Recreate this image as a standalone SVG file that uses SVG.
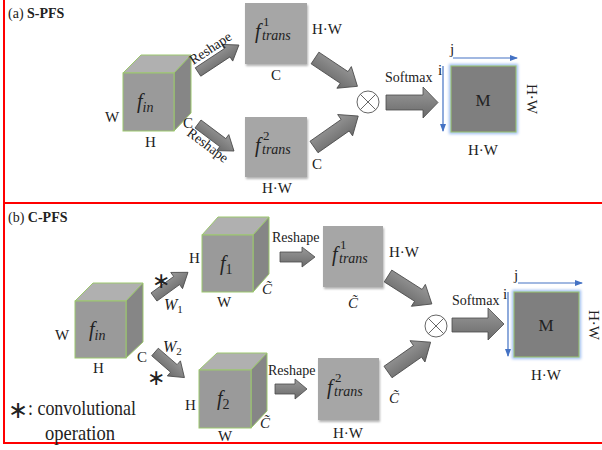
<svg xmlns="http://www.w3.org/2000/svg" width="602" height="450" viewBox="0 0 602 450" font-family="'Liberation Serif', 'Times New Roman', serif">
<style>
text{font-family:'Liberation Serif','Times New Roman',serif;fill:#222}
.lb{font-size:15px}
.sm{font-size:14px}
.it{font-style:italic}
.front{fill:#9a9a9a;stroke:#9cc76e;stroke-width:1}
.top{fill:#b0b0b0;stroke:#9cc76e;stroke-width:1}
.side{fill:#868686;stroke:#9cc76e;stroke-width:1}
.box{fill:#a6a6a6;filter:url(#sh)}
.arr{fill:url(#ag);stroke:#4a4a4a;stroke-width:0.8}
.ax{stroke:#4472c4;stroke-width:1.2;fill:none;marker-end:url(#bh)}
.red{stroke:#ff0000;stroke-width:2}
</style>
<defs>
<linearGradient id="ag" x1="0" y1="0" x2="0" y2="1">
<stop offset="0" stop-color="#9a9a9a"/><stop offset="1" stop-color="#6a6a6a"/>
</linearGradient>
<filter id="sh" x="-10%" y="-10%" width="125%" height="125%">
<feDropShadow dx="1" dy="2" stdDeviation="1" flood-color="#000" flood-opacity="0.3"/>
</filter>
<filter id="glow" x="-20%" y="-20%" width="140%" height="140%">
<feGaussianBlur stdDeviation="1.5"/>
</filter>
<marker id="bh" markerWidth="8" markerHeight="6" refX="7" refY="3" orient="auto" markerUnits="userSpaceOnUse">
<path d="M0,0 L8,3 L0,6 Z" fill="#4472c4"/>
</marker>
</defs>
<rect width="602" height="450" fill="#fff"/>
<g id="frame">
<line class="red" x1="4" y1="0" x2="4" y2="444"/>
<line class="red" x1="4" y1="203" x2="602" y2="203"/>
<line class="red" x1="4" y1="443" x2="602" y2="443"/>
</g>
<text x="8" y="18" class="sm">(a) <tspan font-weight="bold">S-PFS</tspan></text>
<text x="8" y="222" class="sm">(b) <tspan font-weight="bold">C-PFS</tspan></text>

<!-- Panel (a) -->
<g id="a_fin">
<polygon class="top" points="123,73 141,55 191,55 174,73"/>
<polygon class="side" points="174,73 191,55 191,113 174,131"/>
<rect class="front" x="123" y="73" width="51" height="58"/>
<text x="137" y="108" font-size="20" class="it">f<tspan font-size="14" dy="4">in</tspan></text>
<text x="105" y="122" class="lb">W</text>
<text x="145" y="147" class="lb">H</text>
<text x="183" y="128" class="lb">C</text>
</g>
<g id="a_ft1">
<rect class="box" x="245" y="3" width="62" height="61"/>
<text x="255" y="38" font-size="20" class="it">f</text>
<text x="263" y="26" font-size="13">1</text>
<text x="262" y="40" font-size="14" class="it">trans</text>
<text x="312" y="34" class="lb">H·W</text>
<text x="271" y="80" class="lb">C</text>
</g>
<g id="a_ft2">
<rect class="box" x="245" y="117" width="62" height="60"/>
<text x="255" y="152" font-size="20" class="it">f</text>
<text x="263" y="140" font-size="13">2</text>
<text x="262" y="154" font-size="14" class="it">trans</text>
<text x="312" y="169" class="lb">C</text>
<text x="262" y="193" class="lb">H·W</text>
</g>
<g id="a_otimes">
<circle cx="368" cy="102" r="11" fill="#fff" stroke="#666" stroke-width="1"/>
<line x1="360.2" y1="94.2" x2="375.8" y2="109.8" stroke="#666"/>
<line x1="375.8" y1="94.2" x2="360.2" y2="109.8" stroke="#666"/>
</g>
<g id="a_M">
<rect x="451" y="66" width="65" height="66" fill="none" stroke="#9dbdf0" stroke-width="4" filter="url(#glow)"/>
<rect x="451" y="66" width="65" height="66" fill="#7f7f7f" stroke="#9cc76e" stroke-width="1"/>
<text x="483" y="106" font-size="17" text-anchor="middle">M</text>
<text x="483" y="155" class="lb" text-anchor="middle">H·W</text>
<text transform="translate(527,99) rotate(90)" class="lb" text-anchor="middle">H·W</text>
<text x="450" y="54" class="lb">j</text>
<text x="438" y="75" class="lb">i</text>
</g>
<g id="connectors_a">
<path class="arr" transform="translate(198,72) rotate(-33.4)" d="M0,-5 H35 V-10 L49,0 L35,10 V5 H0 Z"/>
<text transform="translate(213,52) rotate(-33.4)" class="sm" text-anchor="middle">Reshape</text>
<path class="arr" transform="translate(198,124) rotate(36.9)" d="M0,-5 H31 V-10 L45,0 L31,10 V5 H0 Z"/>
<text transform="translate(205,149) rotate(37)" class="sm" text-anchor="middle">Reshape</text>
<path class="arr" transform="translate(315,58) rotate(33.7)" d="M0,-7 H35 V-13 L51,0 L35,13 V7 H0 Z"/>
<path class="arr" transform="translate(314,147) rotate(-35)" d="M0,-7 H38 V-13 L54,0 L38,13 V7 H0 Z"/>
<path class="arr" d="M386,95 H423 V87 L438,102.5 L423,118 V110 H386 Z"/>
<text x="385" y="82" class="sm">Softmax</text>
<path class="ax" d="M453,58 H517"/>
<path class="ax" d="M443,66 V131"/>
</g>

<!-- Panel (b) -->
<g id="b_fin">
<polygon class="top" points="75,301 93,283 143,283 126,301"/>
<polygon class="side" points="126,301 143,283 143,342 126,358"/>
<rect class="front" x="75" y="301" width="51" height="57"/>
<text x="89" y="336" font-size="20" class="it">f<tspan font-size="14" dy="4">in</tspan></text>
<text x="55" y="340" class="lb">W</text>
<text x="93" y="373" class="lb">H</text>
<text x="137" y="362" class="lb">C</text>
</g>
<g id="b_f1">
<polygon class="top" points="202,235 218,217 269,217 253,235"/>
<polygon class="side" points="253,235 269,217 269,274 253,292"/>
<rect class="front" x="202" y="235" width="51" height="57"/>
<text x="220" y="270" font-size="20" class="it">f<tspan font-size="14" dy="4" font-style="normal">1</tspan></text>
<text x="189" y="263" class="lb">H</text>
<text x="217" y="307" class="lb">W</text>
<text x="262" y="294" font-size="15" class="it">C&#x303;</text>
</g>
<g id="b_f2">
<polygon class="top" points="199,370 217,353 267,353 251,370"/>
<polygon class="side" points="251,370 267,353 267,411 251,428"/>
<rect class="front" x="199" y="370" width="52" height="58"/>
<text x="217" y="405" font-size="20" class="it">f<tspan font-size="14" dy="4" font-style="normal">2</tspan></text>
<text x="185" y="410" class="lb">H</text>
<text x="218" y="441" class="lb">W</text>
<text x="260" y="428" font-size="15" class="it">C&#x303;</text>
</g>
<g id="b_ft1">
<rect class="box" x="323" y="226" width="60" height="61"/>
<text x="332" y="261" font-size="20" class="it">f</text>
<text x="340" y="249" font-size="13">1</text>
<text x="339" y="263" font-size="14" class="it">trans</text>
<text x="389" y="257" class="lb">H·W</text>
<text x="348" y="308" font-size="15" class="it">C&#x303;</text>
</g>
<g id="b_ft2">
<rect class="box" x="318" y="358" width="61" height="62"/>
<text x="327" y="394" font-size="20" class="it">f</text>
<text x="335" y="382" font-size="13">2</text>
<text x="334" y="396" font-size="14" class="it">trans</text>
<text x="389" y="403" font-size="15" class="it">C&#x303;</text>
<text x="333" y="438" class="lb">H·W</text>
</g>
<g id="b_otimes">
<circle cx="436" cy="326" r="11" fill="#fff" stroke="#666" stroke-width="1"/>
<line x1="428.2" y1="318.2" x2="443.8" y2="333.8" stroke="#666"/>
<line x1="443.8" y1="318.2" x2="428.2" y2="333.8" stroke="#666"/>
</g>
<g id="b_M">
<rect x="514" y="292" width="65" height="65" fill="none" stroke="#9dbdf0" stroke-width="4" filter="url(#glow)"/>
<rect x="514" y="292" width="65" height="65" fill="#7f7f7f" stroke="#9cc76e" stroke-width="1"/>
<text x="546" y="331" font-size="17" text-anchor="middle">M</text>
<text x="546" y="380" class="lb" text-anchor="middle">H·W</text>
<text transform="translate(589,325) rotate(90)" class="lb" text-anchor="middle">H·W</text>
<text x="514" y="280" class="lb">j</text>
<text x="503" y="299" class="lb">i</text>
</g>
<g id="connectors_b">
<path class="arr" transform="translate(154,297) rotate(-36)" d="M0,-5 H28 V-10 L42,0 L28,10 V5 H0 Z"/>
<text x="152" y="288" font-family="DejaVu Sans" font-size="22">∗</text>
<text x="164" y="310" font-size="16" class="it">W<tspan font-size="11" dy="3" font-style="normal">1</tspan></text>
<path class="arr" transform="translate(155,352) rotate(41)" d="M0,-5 H25 V-10 L39,0 L25,10 V5 H0 Z"/>
<text x="163" y="352" font-size="16" class="it">W<tspan font-size="11" dy="3" font-style="normal">2</tspan></text>
<text x="147" y="385" font-family="DejaVu Sans" font-size="22">∗</text>
<path class="arr" d="M280,252 H302 V247 L315,257 L302,267 V262 H280 Z"/>
<text x="272" y="242" class="sm">Reshape</text>
<path class="arr" d="M275,384 H295 V379 L307,389 L295,399 V394 H275 Z"/>
<text x="268" y="375" class="sm">Reshape</text>
<path class="arr" transform="translate(388,276) rotate(32.5)" d="M0,-7 H36 V-13 L52,0 L36,13 V7 H0 Z"/>
<path class="arr" transform="translate(388,372) rotate(-35)" d="M0,-7 H36 V-13 L52,0 L36,13 V7 H0 Z"/>
<path class="arr" d="M452,318 H488 V308 L504,324 L488,340 V332 H452 Z"/>
<text x="452" y="305" class="sm">Softmax</text>
<path class="ax" d="M518,283 H582"/>
<path class="ax" d="M508,292 V356"/>
</g>
<g id="legend">
<text x="8" y="418" font-family="DejaVu Sans" font-size="24">∗</text>
<text x="28" y="415" font-size="21" textLength="108" lengthAdjust="spacingAndGlyphs">: convolutional</text>
<text x="45" y="440" font-size="21" textLength="70" lengthAdjust="spacingAndGlyphs">operation</text>
</g>
</svg>
